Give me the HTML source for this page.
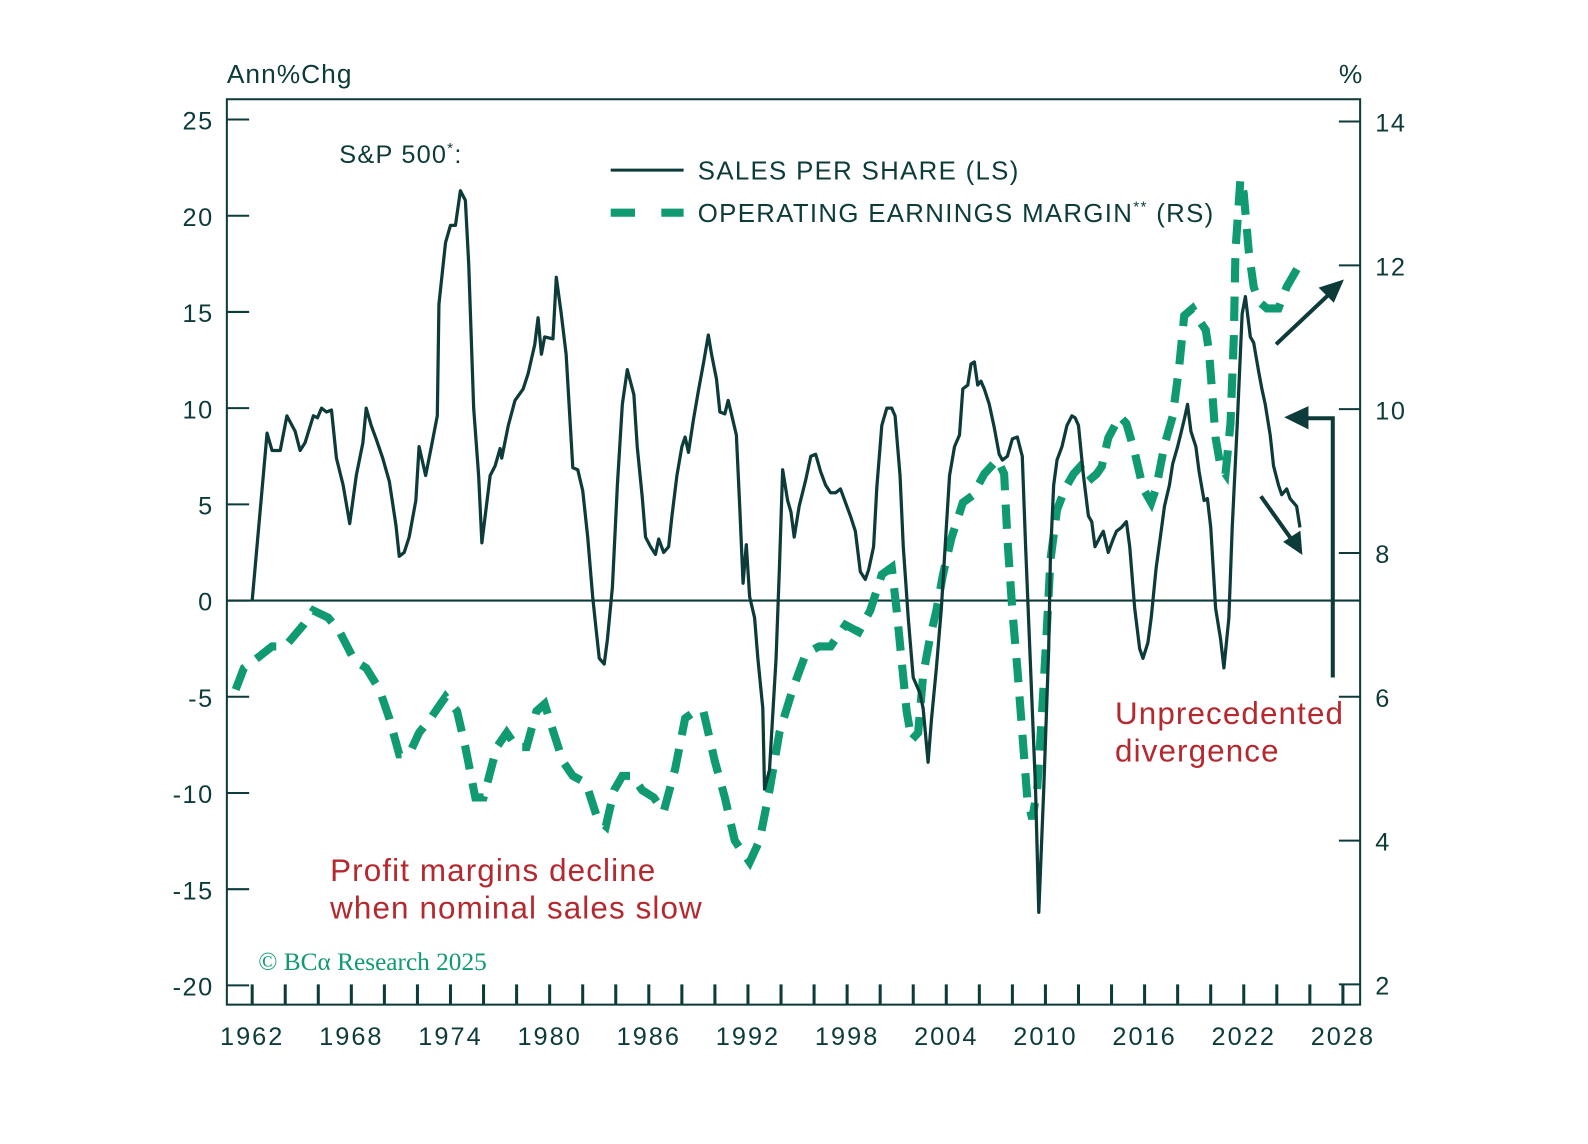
<!DOCTYPE html>
<html><head><meta charset="utf-8"><style>
html,body{margin:0;padding:0;background:#fff;}
svg{display:block;font-family:"Liberation Sans",sans-serif;}
</style></head><body>
<svg id="chart" width="1588" height="1144" viewBox="0 0 1568 1129.6" xmlns="http://www.w3.org/2000/svg">
<rect x="0" y="0" width="1568" height="1130" fill="#fff"/>
<g id="axes"></g>
<g id="series"></g>
<text x="224" y="82" font-size="26" letter-spacing="1" fill="#0d3b3a">Ann%Chg</text>
<text x="1322" y="82" font-size="26" fill="#0d3b3a">%</text>
<text x="335" y="161" font-size="25" letter-spacing="1.2" fill="#0d3b3a">S&amp;P 500<tspan font-size="15" dy="-10">*</tspan><tspan dy="10">:</tspan></text>
<g>
<line x1="603" y1="168" x2="675" y2="168" stroke="#0d3b3a" stroke-width="3"/>
<text x="689" y="177" font-size="25.5" letter-spacing="1.3" fill="#0d3b3a">SALES PER SHARE (LS)</text>
<line x1="603" y1="210" x2="675" y2="210" stroke="#0f9a72" stroke-width="8" stroke-dasharray="24,26"/>
<text x="689" y="219" font-size="25.5" letter-spacing="1.3" fill="#0d3b3a">OPERATING EARNINGS MARGIN<tspan font-size="15" dy="-10">**</tspan><tspan dy="10"> (RS)</tspan></text>
</g>
<text font-size="31" letter-spacing="1.1" fill="#b5282e"><tspan x="326" y="870">Profit margins decline</tspan><tspan x="326" y="907">when nominal sales slow</tspan></text>
<text font-size="31" letter-spacing="1.1" fill="#b5282e"><tspan x="1101" y="715">Unprecedented</tspan><tspan x="1101" y="752">divergence</tspan></text>
<text x="255" y="958" font-size="25" fill="#0f9a72" font-family="Liberation Serif, serif">© BCα Research 2025</text>
<g stroke="#0d3b3a" stroke-width="4" fill="none">
<line x1="1260" y1="340" x2="1314" y2="289"/>
<polygon points="1327,276 1302,284 1317,299" fill="#0d3b3a" stroke="none"/>
<line x1="1245" y1="490" x2="1277" y2="535"/>
<polygon points="1286,548 1267,535 1284,524" fill="#0d3b3a" stroke="none"/>
<polyline points="1316,669 1316,413 1285,413"/>
<polygon points="1268,412 1292,401 1292,424" fill="#0d3b3a" stroke="none"/>
</g>
</svg>
<script>
const leftTicks = [25,20,15,10,5,0,-5,-10,-15,-20];
const rightTicks = [14,12,10,8,6,4,2];
const yearTicks = [1962,1968,1974,1980,1986,1992,1998,2004,2010,2016,2022,2028];
const salesYears = [1962.0,1962.9,1963.2,1963.7,1964.1,1964.6,1964.9,1965.2,1965.7,1965.95,1966.2,1966.5,1966.8,1967.1,1967.5,1967.9,1968.3,1968.7,1968.9,1969.2,1969.5,1969.9,1970.3,1970.7,1970.9,1971.2,1971.5,1971.9,1972.1,1972.5,1972.8,1973.2,1973.3,1973.7,1974.0,1974.3,1974.6,1974.9,1975.1,1975.4,1975.7,1975.9,1976.4,1976.7,1977.0,1977.1,1977.5,1977.9,1978.4,1978.7,1979.1,1979.3,1979.5,1979.7,1980.2,1980.4,1980.7,1981.0,1981.4,1981.7,1982.0,1982.3,1982.6,1982.8,1983.0,1983.3,1983.5,1983.8,1984.1,1984.4,1984.7,1985.1,1985.3,1985.6,1985.8,1986.1,1986.4,1986.6,1986.9,1987.2,1987.4,1987.7,1988.0,1988.2,1988.4,1988.7,1989.0,1989.3,1989.6,1989.8,1990.1,1990.3,1990.6,1990.8,1991.0,1991.3,1991.5,1991.7,1991.9,1992.1,1992.4,1992.6,1992.9,1993.0,1993.3,1993.7,1993.9,1994.1,1994.4,1994.6,1994.8,1995.1,1995.5,1995.8,1996.1,1996.4,1996.7,1997.0,1997.3,1997.6,1997.9,1998.2,1998.5,1998.8,1999.1,1999.3,1999.6,1999.8,2000.1,2000.4,2000.7,2000.9,2001.2,2001.4,2001.7,2002.0,2002.4,2002.6,2002.9,2003.1,2003.4,2003.7,2004.0,2004.2,2004.5,2004.8,2005.0,2005.3,2005.5,2005.7,2005.9,2006.1,2006.3,2006.6,2006.9,2007.2,2007.4,2007.7,2008.0,2008.3,2008.6,2008.8,2009.1,2009.4,2009.6,2009.9,2010.2,2010.3,2010.5,2010.7,2011.0,2011.3,2011.6,2011.8,2012.0,2012.3,2012.6,2012.8,2013.0,2013.3,2013.5,2013.8,2014.1,2014.3,2014.6,2014.9,2015.1,2015.4,2015.7,2015.9,2016.2,2016.4,2016.7,2017.0,2017.2,2017.5,2017.7,2018.0,2018.2,2018.4,2018.6,2018.8,2019.1,2019.3,2019.6,2019.8,2020.0,2020.3,2020.6,2020.8,2021.1,2021.3,2021.6,2021.9,2022.1,2022.4,2022.6,2022.9,2023.1,2023.3,2023.6,2023.8,2024.1,2024.3,2024.6,2024.8,2025.2,2025.4];
const salesValues = [0,8.7,7.8,7.8,9.6,8.8,7.8,8.2,9.6,9.5,10,9.8,9.9,7.4,6,4,6.5,8.2,10,9.1,8.4,7.4,6.2,3.9,2.3,2.5,3.3,5.2,8,6.5,7.8,9.6,15.4,18.6,19.5,19.5,21.3,20.8,17.5,10,6.5,3,6.5,7,7.9,7.4,9.1,10.4,11,11.8,13.3,14.7,12.8,13.7,13.6,16.8,14.9,12.8,6.9,6.8,5.7,3.3,0.2,-1.4,-3,-3.3,-2,0.7,6,10.2,12,10.7,8,5.4,3.3,2.8,2.4,3.2,2.5,2.8,4.4,6.5,8,8.5,7.7,9.4,10.9,12.3,13.8,12.8,11.5,9.8,9.7,10.4,9.7,8.6,4.9,0.9,2.9,0.2,-0.9,-3,-5.6,-9.8,-8.8,-3,1.7,6.8,5.2,4.6,3.3,4.9,6.3,7.5,7.6,6.7,6,5.6,5.6,5.8,5.1,4.4,3.6,1.5,1.1,1.6,2.8,5.9,9.1,10,10,9.6,6.5,2.8,-0.9,-4,-4.8,-5.6,-8.4,-6.2,-3.5,-0.4,3.8,6.5,8,8.6,11,11.2,12.3,12.4,11.2,11.4,11,10.2,9,7.6,7.3,7.5,8.4,8.5,7.5,2.8,-3.5,-9.8,-16.2,-9.8,-2.5,2.3,6,7.3,8,9.1,9.6,9.5,9.1,6.5,4.4,4.1,2.8,3.3,3.6,2.5,3.2,3.6,3.8,4.1,2.8,-0.4,-2.5,-3,-2.2,-0.9,1.7,3.6,4.9,6,7.1,8,8.7,9.4,10.2,8.8,8,6.7,5.2,5.3,3.8,-0.4,-2,-3.5,-0.9,3.8,9.1,14.9,15.8,13.7,13.4,11.9,11,10.2,8.6,7,6,5.5,5.8,5.3,4.9,3.8];
const marginYears = [1961.0,1961.5,1962.1,1963.2,1964.0,1965.1,1965.7,1966.6,1967.3,1968.2,1968.9,1969.7,1970.3,1970.9,1971.5,1972.1,1972.8,1973.7,1974.4,1974.9,1975.5,1976.0,1976.8,1977.4,1978.0,1978.6,1979.2,1979.7,1980.1,1980.8,1981.4,1982.2,1982.9,1983.4,1983.9,1984.4,1985.0,1985.6,1986.3,1986.9,1987.6,1988.2,1988.8,1989.3,1990.0,1990.6,1991.2,1992.1,1992.7,1993.3,1993.9,1994.7,1995.5,1996.3,1997.0,1997.9,1998.7,1999.4,2000.1,2000.7,2001.0,2001.3,2001.6,2001.9,2002.3,2002.6,2003.0,2003.4,2003.8,2004.3,2005.0,2005.6,2006.3,2007.1,2007.5,2007.7,2008.0,2008.3,2008.6,2008.9,2009.2,2009.5,2009.8,2010.1,2010.3,2010.7,2011.2,2011.7,2012.1,2012.6,2013.1,2013.4,2013.8,2014.5,2014.9,2015.4,2015.9,2016.4,2016.7,2017.2,2017.7,2018.1,2018.4,2018.9,2019.4,2019.7,2019.9,2020.1,2020.3,2020.6,2020.9,2021.2,2021.4,2021.5,2021.8,2022.0,2022.3,2022.6,2022.9,2023.4,2024.1,2024.6,2025.1,2025.6];
const marginValues = [6.1,6.4,6.5,6.7,6.7,7.0,7.2,7.1,6.9,6.5,6.4,6.1,5.7,5.2,5.2,5.5,5.7,6.0,5.8,5.3,4.6,4.6,5.3,5.5,5.3,5.3,5.8,5.9,5.6,5.1,4.9,4.8,4.3,4.2,4.7,4.9,4.9,4.7,4.6,4.4,5.0,5.7,5.8,5.8,5.1,4.6,4.0,3.7,4.0,4.7,5.5,6.1,6.6,6.7,6.7,7.0,6.9,7.2,7.7,7.8,7.2,6.5,5.8,5.4,5.5,6.3,6.8,7.2,7.7,8.2,8.7,8.8,9.1,9.3,9.1,8.2,7.2,6.4,5.5,4.6,4.3,4.7,5.8,7.0,7.9,8.6,8.9,9.1,9.2,9.0,9.1,9.2,9.6,9.9,9.8,9.4,8.9,8.7,8.9,9.5,9.9,10.6,11.3,11.4,11.2,11.1,10.8,10.2,9.6,9.2,9.1,9.8,11.0,12.2,13.2,13.0,12.2,11.7,11.5,11.4,11.4,11.7,11.9,12.1];

const NS = 'http://www.w3.org/2000/svg';
const X0 = 224, X1 = 1343, Y0 = 98, Y1 = 992;
const xS = y => 249 + (y - 1962) * (1077 / 66);
const yL = v => 593 - v * 19;
const yR = v => 404 - (v - 10) * 71;
const C = '#0d3b3a';
function mk(tag, attrs, parent) {
  const e = document.createElementNS(NS, tag);
  for (const k in attrs) e.setAttribute(k, attrs[k]);
  parent.appendChild(e);
  return e;
}
const ax = document.getElementById('axes');
const fr = mk('rect', {x: X0, y: Y0, width: X1 - X0, height: Y1 - Y0, fill: 'none', stroke: C, 'stroke-width': 2}, ax);


const zl = mk('line', {x1: X0, x2: X1, y1: yL(0), y2: yL(0), stroke: C, 'stroke-width': 2}, ax);


leftTicks.forEach(v => {
  const l = mk('line', {x1: X0, x2: X0 + 22, y1: yL(v), y2: yL(v), stroke: C, 'stroke-width': 2}, ax);
  
  
  const t = mk('text', {x: 211, y: yL(v) + 10, 'font-size': 25, 'letter-spacing': 1.5, fill: C, 'text-anchor': 'end'}, ax);
  t.textContent = v;
  
  
});
rightTicks.forEach(v => {
  const l = mk('line', {x1: X1 - 21, x2: X1, y1: yR(v), y2: yR(v), stroke: C, 'stroke-width': 2}, ax);
  
  
  const t = mk('text', {x: 1358, y: yR(v) + 10, 'font-size': 25, 'letter-spacing': 1.5, fill: C}, ax);
  t.textContent = v;
  
  
});
for (let yr = 1962; yr <= 2028; yr += 2) {
  const l = mk('line', {x1: xS(yr), x2: xS(yr), y1: Y1 - 20, y2: Y1, stroke: C, 'stroke-width': 3}, ax);
  
  
}
yearTicks.forEach(yr => {
  const t = mk('text', {x: xS(yr), y: 1032, 'font-size': 25, 'letter-spacing': 2, fill: C, 'text-anchor': 'middle'}, ax);
  t.textContent = yr;
  
  
});
const sg = document.getElementById('series');
const mp = mk('path', {d: marginYears.map((y, i) => (i ? 'L' : 'M') + xS(y).toFixed(1) + ',' + yR(marginValues[i]).toFixed(1)).join(''), fill: 'none', stroke: '#0f9a72', 'stroke-width': 8, 'stroke-dasharray': '24,14'}, sg);


const sp = mk('path', {d: salesYears.map((y, i) => (i ? 'L' : 'M') + xS(y).toFixed(1) + ',' + yL(salesValues[i]).toFixed(1)).join(''), fill: 'none', stroke: C, 'stroke-width': 3.2, 'stroke-linejoin': 'round'}, sg);


</script>
</body></html>
